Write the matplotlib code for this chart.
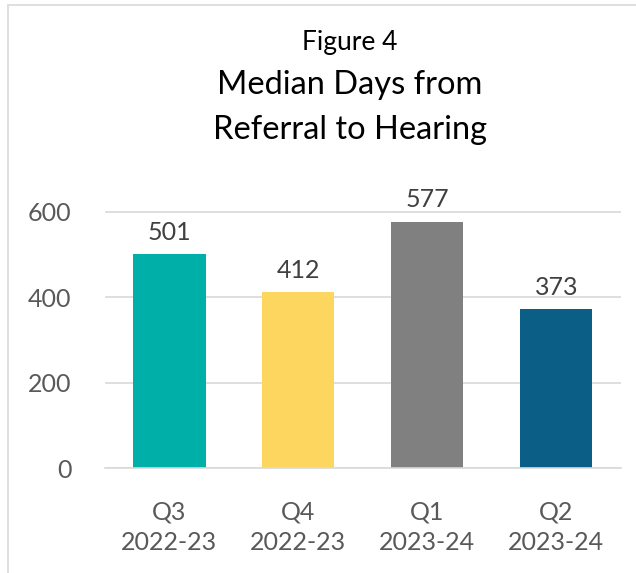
import matplotlib
matplotlib.use('Agg')
from matplotlib import pyplot as plt
from matplotlib.patches import Rectangle

plt.rcParams['font.family'] = ['Lato', 'DejaVu Sans']

# data
categories = ['Q3\n2022-23', 'Q4\n2022-23', 'Q1\n2023-24', 'Q2\n2023-24']
median_days = [501, 412, 577, 373]
bar_colors = ['#00B0A8', '#FDD660', '#808080', '#0B5F87']
y_ticks = [0, 200, 400, 600]

fig = plt.figure(figsize=(6.36, 5.73), dpi=100)
ax = fig.add_axes([0.165, 0.183, 0.811, 0.522])

x = range(len(categories))
ax.grid(axis='y', color='#d9d9d9', linewidth=1.2)
ax.set_axisbelow(True)
bars = ax.bar(x, median_days, width=0.56, color=bar_colors, zorder=2)
for rect, v in zip(bars, median_days):
    ax.text(rect.get_x() + rect.get_width() / 2, v + 24, str(v),
            ha='center', va='bottom', fontsize=18, color='#404040')

ax.set_xlim(-0.5, 3.5)
ax.set_ylim(0, 700)
ax.set_yticks(y_ticks)
ax.set_xticks(list(x))
ax.set_xticklabels(categories, fontsize=18, color='#595959', linespacing=1.4)
ax.tick_params(axis='y', labelsize=18, labelcolor='#595959', length=0, pad=24)
ax.tick_params(axis='x', length=0, pad=23)
for s in ['top', 'right', 'left']:
    ax.spines[s].set_visible(False)
ax.spines['bottom'].set_color('#d9d9d9')
ax.spines['bottom'].set_linewidth(1.2)

fig.text(0.55, 1 - 50 / 573, 'Figure 4', ha='center', va='baseline', fontsize=19, color='black')
fig.text(0.55, 1 - 94 / 573, 'Median Days from', ha='center', va='baseline', fontsize=23.5, color='black')
fig.text(0.55, 1 - 139 / 573, 'Referral to Hearing', ha='center', va='baseline', fontsize=23.5, color='black')

# outer chart border (left and top visible)
fig.patches.append(Rectangle((8 / 636, -0.1), 1.2, 1 - 5 / 573 + 0.1, transform=fig.transFigure,
                             fill=False, edgecolor='#d9d9d9', linewidth=1.2))

fig.savefig('out.png', dpi=100)
